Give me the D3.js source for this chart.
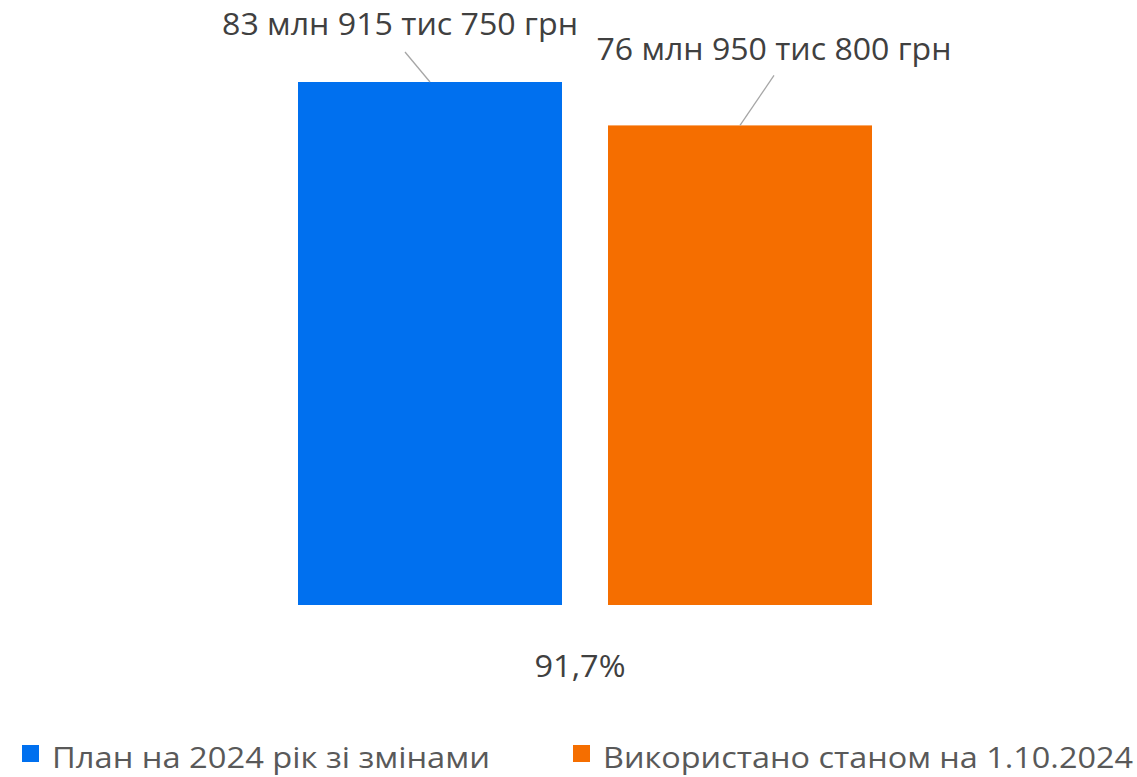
<!DOCTYPE html>
<html><head><meta charset="utf-8">
<script src="https://cdn.jsdelivr.net/npm/d3@7"></script>
<style>body{margin:0;background:#fff}svg{display:block}</style>
</head><body>
<script>
const categories = ["План на 2024 рік зі змінами", "Використано станом на 1.10.2024"];
const values = [83915750, 76950800];
const valueLabels = ["83 млн 915 тис 750 грн", "76 млн 950 тис 800 грн"];
const percentLabel = "91,7%";
const colors = ["#0070EF", "#F56E00"];

const W = 1137, H = 777;
const svg = d3.select("body").append("svg").attr("width", W).attr("height", H);
const font = "'Open Sans', 'Noto Sans', sans-serif";

const x = d3.scaleBand().domain(categories).range([298, 872]).paddingInner(46/310).paddingOuter(0);
const y = d3.scaleLinear().domain([0, values[0]]).range([605, 82]);

svg.selectAll("rect.bar").data(categories).enter().append("rect")
  .attr("class","bar")
  .attr("x", d => x(d)).attr("width", x.bandwidth())
  .attr("y", (d,i) => y(values[i])).attr("height", (d,i) => y(0) - y(values[i]))
  .attr("fill", (d,i) => colors[i]);

// label offsets relative to bar centre/top
const labelOff = [{dx:-30, dy:-47, lx:-25, ly:-30}, {dx:34, dy:-65, lx:34, ly:-50}];
const widths = [356, 355];
categories.forEach((c,i) => {
  const cx = x(c) + x.bandwidth()/2, ty = y(values[i]);
  const o = labelOff[i];
  svg.append("line").attr("x1", cx + o.lx).attr("y1", ty + o.ly).attr("x2", cx).attr("y2", ty)
    .attr("stroke", "#A6A6A6").attr("stroke-width", 1.3);
  svg.append("text").attr("x", cx + o.dx).attr("y", ty + o.dy)
    .attr("text-anchor","middle").attr("font-family", font).attr("font-size", 30.5)
    .attr("fill","#404040").attr("textLength", widths[i]).attr("lengthAdjust","spacingAndGlyphs")
    .text(valueLabels[i]);
});

svg.append("text").attr("x", 580).attr("y", 677).attr("text-anchor","middle")
  .attr("font-family", font).attr("font-size", 31).attr("fill","#404040")
  .attr("textLength", 91).attr("lengthAdjust","spacingAndGlyphs").text(percentLabel);

// legend
const legX = [22, 573], legTextW = [438, 530];
categories.forEach((c,i) => {
  const g = svg.append("g");
  g.append("rect").attr("x", legX[i]).attr("y", 745).attr("width", 17).attr("height", 17).attr("fill", colors[i]);
  g.append("text").attr("x", legX[i] + 30).attr("y", 768)
    .attr("font-family", font).attr("font-size", 30).attr("fill","#595959")
    .attr("textLength", legTextW[i]).attr("lengthAdjust","spacingAndGlyphs").text(c);
});
</script>
</body></html>
